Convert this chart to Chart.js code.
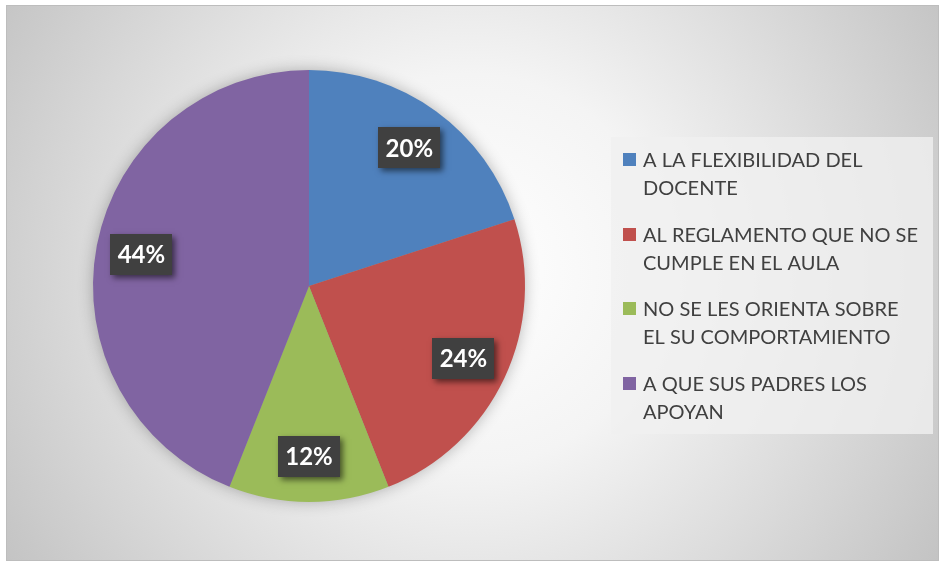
<!DOCTYPE html>
<html>
<head>
<meta charset="utf-8">
<script src="https://cdn.jsdelivr.net/npm/chart.js@4"></script>
<style>
  html, body { margin: 0; padding: 0; background: #ffffff; }
  #wrap { position: absolute; left: 0; top: 0; width: 939px; height: 562px; }
</style>
</head>
<body>
<div id="wrap"><canvas id="pieChart"></canvas></div>
<script>
// categories (legend lines as they wrap in the original)
const categorias = [
  ['A LA FLEXIBILIDAD DEL', 'DOCENTE'],
  ['AL REGLAMENTO QUE NO SE', 'CUMPLE EN EL AULA'],
  ['NO SE LES ORIENTA SOBRE', 'EL SU COMPORTAMIENTO'],
  ['A QUE SUS PADRES LOS', 'APOYAN'],
];
const porcentajes = [20, 24, 12, 44];
const colores = ['#4f81bd', '#c0504d', '#9bbb59', '#8064a2'];

// chart frame with the soft radial background
const fondo = {
  id: 'fondo',
  beforeDraw(chart) {
    const ctx = chart.ctx;
    ctx.save();
    ctx.fillStyle = '#ffffff';
    ctx.fillRect(0, 0, chart.width, chart.height);
    const g = ctx.createRadialGradient(470, 270, 0, 470, 270, 560);
    g.addColorStop(0, '#ffffff');
    g.addColorStop(0.35, '#f4f4f4');
    g.addColorStop(1, '#c2c2c2');
    ctx.fillStyle = g;
    ctx.fillRect(6, 5, chart.width - 6, chart.height - 6);
    ctx.strokeStyle = '#bdbdbd';
    ctx.lineWidth = 1;
    ctx.strokeRect(6.5, 5.5, chart.width - 7, chart.height - 7);
    ctx.restore();
  },
  // soft glow under the whole pie
  beforeDatasetsDraw(chart) {
    const arc = chart.getDatasetMeta(0).data[0];
    if (!arc) return;
    const { x, y, outerRadius } = arc.getProps(['x', 'y', 'outerRadius'], true);
    const ctx = chart.ctx;
    ctx.save();
    ctx.shadowColor = 'rgba(0,0,0,0.3)';
    ctx.shadowBlur = 16;
    ctx.fillStyle = '#9a9a9a';
    ctx.beginPath();
    ctx.arc(x, y, outerRadius - 1, 0, Math.PI * 2);
    ctx.fill();
    ctx.restore();
  }
};

// dark boxed percentage labels
const etiquetas = {
  id: 'etiquetas',
  afterDatasetsDraw(chart) {
    const ctx = chart.ctx;
    const meta = chart.getDatasetMeta(0);
    ctx.save();
    ctx.font = 'bold 24px Lato, "Open Sans", sans-serif';
    ctx.textAlign = 'center';
    ctx.textBaseline = 'middle';
    meta.data.forEach((arc, i) => {
      const p = arc.getProps(['x', 'y', 'startAngle', 'endAngle', 'outerRadius'], true);
      const mid = (p.startAngle + p.endAngle) / 2;
      const cx = p.x + Math.cos(mid) * p.outerRadius * 0.79;
      const cy = p.y + Math.sin(mid) * p.outerRadius * 0.79;
      const txt = porcentajes[i] + '%';
      const w = 62, h = 41;
      ctx.save();
      ctx.shadowColor = 'rgba(0,0,0,0.55)';
      ctx.shadowBlur = 6;
      ctx.shadowOffsetX = 3;
      ctx.shadowOffsetY = 3;
      ctx.fillStyle = '#404040';
      ctx.fillRect(Math.round(cx - w / 2), Math.round(cy - h / 2), w, h);
      ctx.restore();
      ctx.fillStyle = '#ffffff';
      ctx.fillText(txt, cx, cy + 1);
    });
    ctx.restore();
  }
};

// legend on the right
const leyenda = {
  id: 'leyenda',
  afterDraw(chart) {
    const ctx = chart.ctx;
    ctx.save();
    ctx.fillStyle = 'rgba(240,240,240,0.8)';
    ctx.fillRect(611, 137, 322, 297);
    ctx.font = '20px Lato, "Open Sans", sans-serif';
    ctx.textBaseline = 'alphabetic';
    ctx.textAlign = 'left';
    categorias.forEach((lineas, i) => {
      const top = 153 + i * 74.5;
      ctx.fillStyle = colores[i];
      ctx.fillRect(623, Math.round(top), 13, 13);
      ctx.fillStyle = '#404040';
      lineas.forEach((l, j) => {
        ctx.fillText(l, 643, top + 14 + j * 28);
      });
    });
    ctx.restore();
  }
};

const chart = new Chart(document.getElementById('pieChart').getContext('2d'), {
  type: 'pie',
  data: {
    labels: categorias,
    datasets: [
      {
        data: porcentajes,
        backgroundColor: colores,
        borderWidth: 0,
        hoverOffset: 0,
      },
    ],
  },
  options: {
    responsive: true,
    maintainAspectRatio: false,
    animation: false,
    devicePixelRatio: 1,
    layout: { padding: { left: 93, right: 414, top: 70, bottom: 60 } },
    plugins: {
      legend: { display: false },
      tooltip: { enabled: false },
    },
  },
  plugins: [fondo, etiquetas, leyenda],
});
</script>
</body>
</html>
